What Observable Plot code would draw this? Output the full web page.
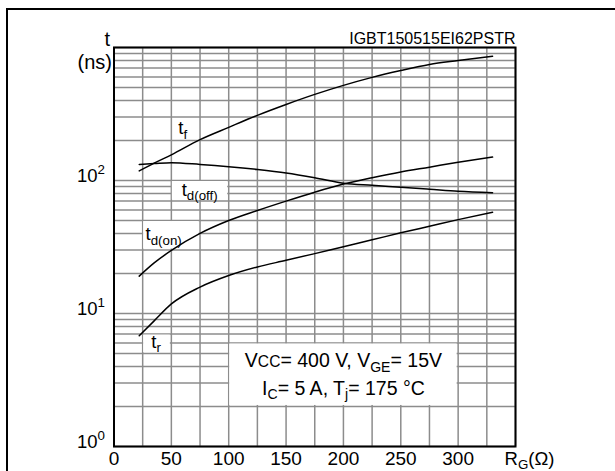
<!DOCTYPE html>
<html><head><meta charset="utf-8">
<script src="https://cdn.jsdelivr.net/npm/d3@7"></script>
<script src="https://cdn.jsdelivr.net/npm/@observablehq/plot@0.6"></script>
<style>
body{margin:0;background:#fff;overflow:hidden;}
#wrap{position:relative;width:615px;height:471px;overflow:hidden;}
#border{position:absolute;left:6px;top:8px;width:700px;height:600px;border-left:2px solid #000;border-top:2px solid #000;pointer-events:none;}
</style></head><body>
<div id="wrap"><div id="chart"></div><div id="border"></div></div>
<script>
// ---- data ----
const rg      = [22, 35, 50, 75, 100, 125, 150, 175, 200, 225, 250, 275, 300, 330];
const tF      = [118, 135, 156, 203, 251, 309, 373, 444, 519, 596, 671, 745, 798, 861];
const tDoff   = [132, 134, 136, 132, 127, 121, 114, 105, 95.5, 92, 89, 86, 83, 81];
const tDon    = [19.1, 24, 29.8, 40, 50, 59.5, 70, 81.7, 94, 105, 116, 126, 137, 150];
const tR      = [6.8, 8.8, 11.8, 15.8, 19.3, 22.4, 25.1, 28.2, 31.8, 35.8, 40.4, 45.3, 50.8, 57.8];
const seriesNames = ["tf", "td(off)", "td(on)", "tr"];
const seriesValues = [tF, tDoff, tDon, tR];

const xTicks = [0, 50, 100, 150, 200, 250, 300];
const yTicks = [1, 10, 100];
const yExps  = [0, 1, 2];

const labelText = ["t_{f}", "t_{d(off)}", "t_{d(on)}", "t_{r}"];
const labelX    = [56, 59, 27.5, 32.5];
const labelY    = [222, 77, 35.4, 5.55];

// white label boxes [x1, x2, y1, y2]
const boxX1 = [50, 25, 25, 100];
const boxX2 = [100, 75, 50, 300];
const boxY1 = [70, 30, 5, 2];
const boxY2 = [100, 50, 7, 6];

const condLines = ["V~{CC}= 400 V, V_{GE}= 15V", "I_{C}= 5 A, T_{j}= 175 °C"];
const condY = [3.95, 2.46];
const condX = 200;

const titleText = "IGBT150515EI62PSTR";
const xLabel = "R_{G}(Ω)";

// ---- build tables ----
const curves = seriesNames.flatMap((s, i) => rg.map((r, j) => ({series: s, r, t: seriesValues[i][j]})));
const boxes = boxX1.map((x1, i) => ({x1, x2: boxX2[i], y1: boxY1[i], y2: boxY2[i]}));
const labels = labelText.map((t, i) => ({t, x: labelX[i], y: labelY[i]}));
const xGrid = d3.range(0, 351, 25);
const yGrid = [1, 10, 100].flatMap(d => d3.range(1, 10).map(k => k * d)).concat([1000]);

const FONT = "'Liberation Sans', Arial, Helvetica, sans-serif";
const gridColor = "#8c8c8c";

const chart = Plot.plot({
  width: 615,
  height: 471,
  marginLeft: 113.5,
  marginRight: 100,
  marginTop: 47,
  marginBottom: 25,
  style: {fontFamily: FONT, background: "transparent", color: "#000"},
  x: {domain: [0, 350], axis: null},
  y: {type: "log", domain: [1, 1000], axis: null},
  marks: [
    Plot.ruleX(xGrid, {x: d => d, stroke: gridColor, strokeWidth: 1.5}),
    Plot.ruleY(yGrid, {y: d => d, stroke: gridColor, strokeWidth: 1.5}),
    Plot.rect(boxes, {x1: "x1", x2: "x2", y1: "y1", y2: "y2", fill: "white", inset: 1}),
    Plot.frame({stroke: "black", strokeWidth: 2}),
    Plot.line(curves, {x: "r", y: "t", z: "series", stroke: "black", strokeWidth: 1.5, curve: "monotone-x"}),
    Plot.text(labels, {x: "x", y: "y", text: "t", textAnchor: "start", lineAnchor: "bottom", fontSize: 18.5, fill: "black"}),
    Plot.text(condLines, {x: () => condX, y: (d, i) => condY[i], text: d => d, textAnchor: "middle", lineAnchor: "bottom", fontSize: 19.5, fill: "black"}),
    Plot.text(xTicks, {x: d => d, y: () => 1, text: d => String(d), dy: 18.5, textAnchor: "middle", lineAnchor: "bottom", fontSize: 19, fill: "black"}),
    Plot.text([xLabel], {x: () => 350, y: () => 1, text: d => d, dx: -11, dy: 18, textAnchor: "start", lineAnchor: "bottom", fontSize: 18.5, fill: "black"}),
    Plot.text(yTicks, {x: () => 0, y: d => d, text: (d, i) => "10^{" + yExps[i] + "}", dx: -9, dy: 1, textAnchor: "end", lineAnchor: "bottom", fontSize: 18.5, fill: "black"}),
    Plot.text([titleText], {x: () => 350, y: () => 1000, text: d => d, dy: -4, textAnchor: "end", lineAnchor: "bottom", fontSize: 16, fill: "black"}),
    Plot.text(["t"], {x: () => 0, y: () => 1000, text: d => d, dx: -4, dy: -2, textAnchor: "end", lineAnchor: "bottom", fontSize: 20, fill: "black"}),
    Plot.text(["(ns)"], {x: () => 0, y: () => 1000, text: d => d, dx: -2, dy: 21, textAnchor: "end", lineAnchor: "bottom", fontSize: 20, fill: "black"})
  ]
});

// rich text: _{sub}, ^{sup}, ~{small}
function richify(svg) {
  const NS = "http://www.w3.org/2000/svg";
  svg.querySelectorAll("text").forEach(t => {
    const targets = t.querySelector("tspan") ? [...t.querySelectorAll("tspan")] : [t];
    targets.forEach(el => {
      const s = el.textContent;
      if (!/[_^~]\{/.test(s)) return;
      el.textContent = "";
      const re = /([_^~])\{([^}]*)\}/g;
      let last = 0, m, shift = 0;
      const add = (txt, kind) => {
        if (!txt) return;
        const ts = document.createElementNS(NS, "tspan");
        ts.textContent = txt;
        let want = 0;
        if (kind === "_") { want = 4.5; ts.setAttribute("font-size", "0.72em"); }
        else if (kind === "^") { want = -8; ts.setAttribute("font-size", "0.72em"); }
        else if (kind === "~") { ts.setAttribute("font-size", "0.8em"); }
        if (want !== shift) ts.setAttribute("dy", String(want - shift));
        shift = want;
        el.appendChild(ts);
      };
      while ((m = re.exec(s))) {
        add(s.slice(last, m.index), "");
        add(m[2], m[1]);
        last = re.lastIndex;
      }
      add(s.slice(last), "");
    });
  });
}
richify(chart);
document.getElementById("chart").appendChild(chart);
</script>
</body></html>
